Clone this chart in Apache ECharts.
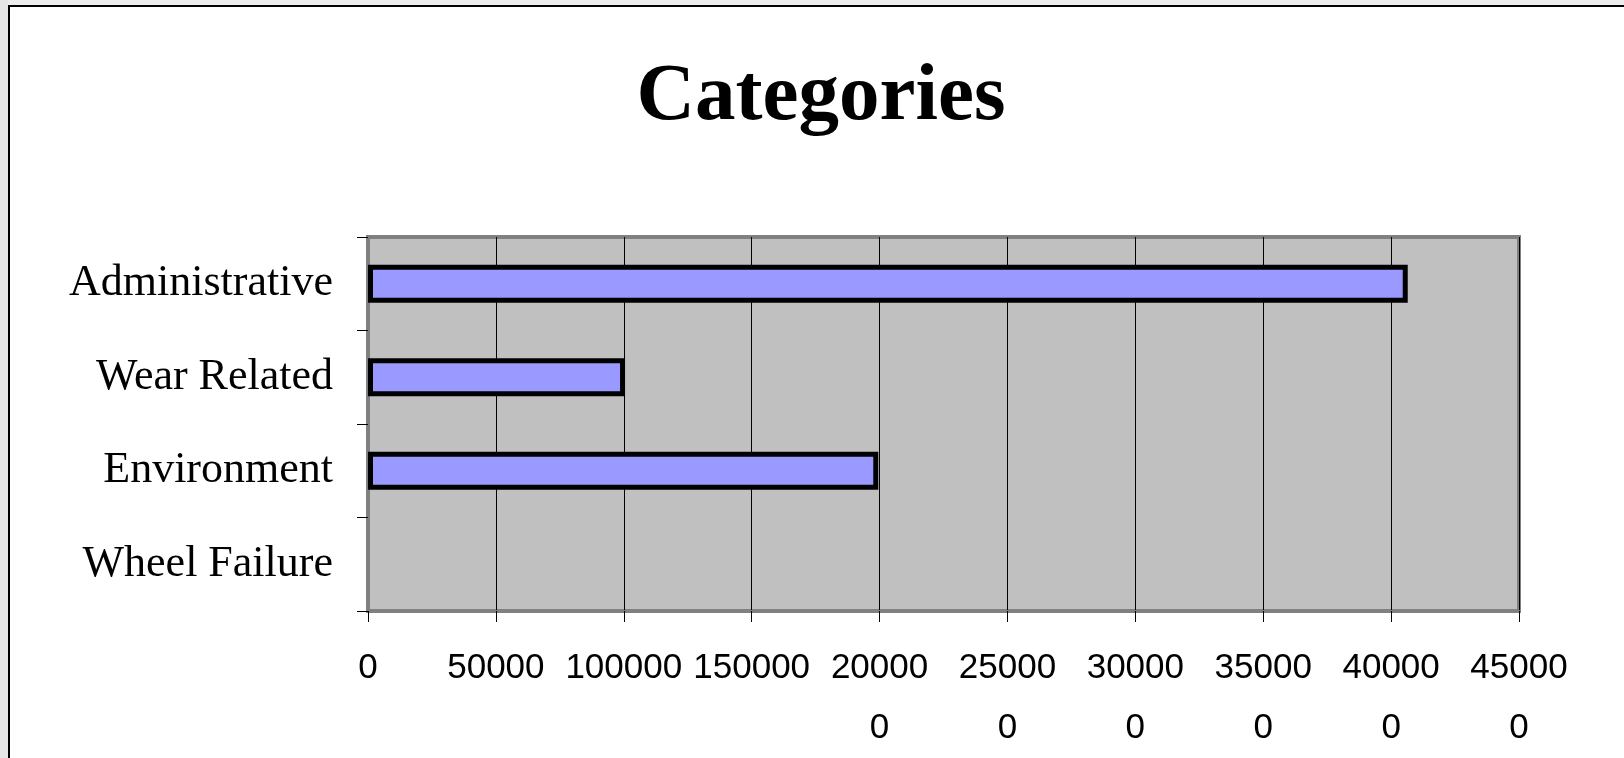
<!DOCTYPE html>
<html>
<head>
<meta charset="utf-8">
<title>Categories</title>
<script src="https://cdn.jsdelivr.net/npm/echarts@6/dist/echarts.min.js"></script>
<style>
  html, body { margin: 0; padding: 0; background: #fff; }
  #chart { width: 1624px; height: 758px; }
</style>
</head>
<body>
<div id="chart"></div>
<script>
// data
const categories = ['Administrative', 'Wear Related', 'Environment', 'Wheel Failure'];
const values = [406500, 100500, 199500, 0];
const axisMax = 450000;
const axisStep = 50000;

// Excel wraps the long tick labels: last digit on a second line
const tickLabel = (v) => {
  const s = String(v);
  return v >= 200000 ? s.slice(0, -1) + '\n' + s.slice(-1) : s;
};

const chart = echarts.init(document.getElementById('chart'));

chart.setOption({
  animation: false,
  backgroundColor: '#FFFFFF',
  title: {
    text: 'Categories',
    left: 816, top: 53, textAlign: 'center',
    textStyle: { fontFamily: 'Liberation Serif, Times New Roman, serif', fontWeight: 'bold', fontSize: 81, color: '#000' }
  },
  grid: {
    left: 368, top: 237, right: 105, bottom: 146,
    show: true, backgroundColor: '#C0C0C0', borderColor: '#808080', borderWidth: 4
  },
  xAxis: {
    type: 'value', min: 0, max: axisMax, interval: axisStep,
    axisLine: { show: true, lineStyle: { color: '#808080', width: 3 } },
    axisTick: { show: true, length: 11, lineStyle: { color: '#000', width: 1 } },
    splitLine: { show: true, lineStyle: { color: '#000', width: 1 } },
    axisLabel: {
      formatter: tickLabel, margin: 27, color: '#000', lineHeight: 60,
      fontFamily: 'Liberation Sans, Arial, sans-serif', fontSize: 35
    }
  },
  yAxis: {
    type: 'category', data: categories, inverse: true,
    axisLine: { show: true, lineStyle: { color: '#808080', width: 3 } },
    axisTick: { show: true, length: 11, lineStyle: { color: '#000', width: 1 } },
    axisLabel: {
      margin: 35, color: '#000',
      fontFamily: 'Liberation Serif, Times New Roman, serif', fontSize: 44
    }
  },
  series: [{
    type: 'bar',
    // a zero bar gets no outline, as in Excel
    data: values.map(v => v === 0 ? { value: v, itemStyle: { borderWidth: 0 } } : v),
    barWidth: 38,
    itemStyle: { color: '#9999FF', borderColor: '#000', borderWidth: 5 }
  }],
  graphic: [
    { type: 'rect', shape: { x: 0, y: 0, width: 1624, height: 6 }, style: { fill: '#EDEDED' }, silent: true },
    { type: 'rect', shape: { x: 0, y: 0, width: 8, height: 758 }, style: { fill: '#E6E6E6' }, silent: true },
    { type: 'line', shape: { x1: 8, y1: 6, x2: 1624, y2: 6 }, style: { stroke: '#000', lineWidth: 2 }, silent: true },
    { type: 'line', shape: { x1: 9, y1: 6, x2: 9, y2: 758 }, style: { stroke: '#000', lineWidth: 2 }, silent: true }
  ]
});
</script>
</body>
</html>
